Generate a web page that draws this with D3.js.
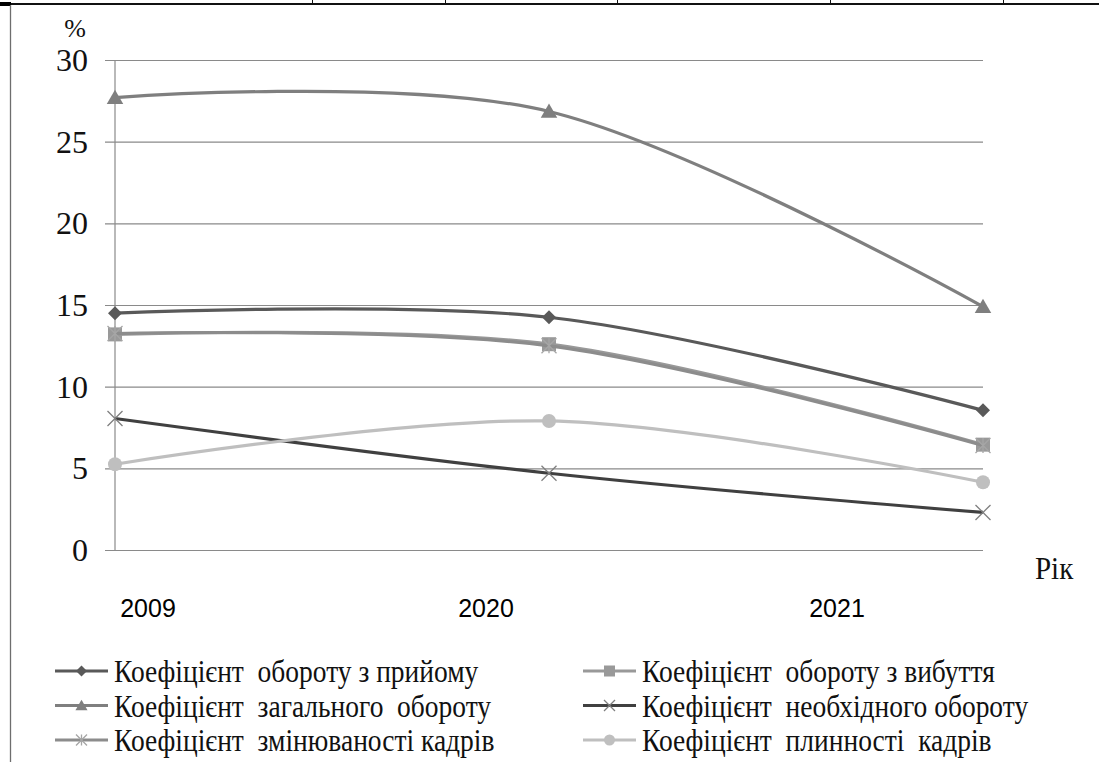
<!DOCTYPE html>
<html>
<head>
<meta charset="utf-8">
<script src="https://cdn.jsdelivr.net/npm/d3@7"></script>
<style>
  html, body { margin: 0; padding: 0; background: #fff; }
  svg { display: block; }
</style>
</head>
<body>
<svg id="chart" width="1099" height="762" font-family="Liberation Serif"></svg>
<script>
// Years on the category axis and the printed year captions under the plot
const years = ["2009", "2020", "2021"];
const yTicks = [0, 5, 10, 15, 20, 25, 30];

// Staff turnover ratios, %
const seriesNames = [
  "Коефіцієнт  обороту з прийому",
  "Коефіцієнт  обороту з вибуття",
  "Коефіцієнт  загального  обороту",
  "Коефіцієнт  необхідного обороту",
  "Коефіцієнт  змінюваності кадрів",
  "Коефіцієнт  плинності  кадрів"
];
const hiring      = [14.5, 14.25, 8.55];
const leaving     = [13.2, 12.6, 6.45];
const overall     = [27.7, 26.85, 14.9];
const necessary   = [8.05, 4.7, 2.3];
const changeover  = [13.25, 12.5, 6.4];
const fluidity    = [5.25, 7.9, 4.15];

const seriesValues = [hiring, leaving, overall, necessary, changeover, fluidity];
const seriesColors = ["#595959", "#999999", "#7f7f7f", "#404040", "#8c8c8c", "#bfbfbf"];
const markerColors = ["#595959", "#999999", "#7f7f7f", "#7f7f7f", "#a6a6a6", "#bfbfbf"];
const markerKinds  = ["diamond", "square", "triangle", "cross", "asterisk", "circle"];

const SERIF = "Liberation Serif";
const SANS = "Liberation Sans";

const svg = d3.select("#chart");

// outer frame pieces
svg.append("rect").attr("x", 0).attr("y", 3).attr("width", 1099).attr("height", 2).attr("fill", "#111");
svg.append("rect").attr("x", 0).attr("y", 2).attr("width", 11).attr("height", 4).attr("fill", "#000");
[312, 445, 617, 830, 1003].forEach(x => {
  svg.append("line").attr("x1", x + 0.5).attr("x2", x + 0.5).attr("y1", 0).attr("y2", 5)
    .attr("stroke", "#111").attr("stroke-width", 1);
});
svg.append("line").attr("x1", 10.5).attr("x2", 10.5).attr("y1", 5).attr("y2", 762)
  .attr("stroke", "#6e6e6e").attr("stroke-width", 1.3);

const x = d3.scalePoint().domain(years).range([115, 983]);
const y = d3.scaleLinear().domain([0, 30]).range([550, 60]);
const xCaption = d3.scaleOrdinal().domain(years).range([148, 486, 837]);

// value labels first, then gridlines and the vertical axis line
svg.append("g").selectAll("text").data(yTicks).join("text")
  .style("font-family", SERIF)
  .attr("x", 88).attr("y", d => y(d) + 11)
  .attr("text-anchor", "end")
  .attr("font-size", 32).attr("fill", "#111")
  .text(d => d);

svg.append("g").selectAll("line").data(yTicks).join("line")
  .attr("x1", 105).attr("x2", 983)
  .attr("y1", d => y(d) + 0.5).attr("y2", d => y(d) + 0.5)
  .attr("stroke", "#8a8a8a").attr("stroke-width", 1.2);
svg.append("line").attr("x1", 115).attr("x2", 115).attr("y1", y(30)).attr("y2", y(0))
  .attr("stroke", "#8a8a8a").attr("stroke-width", 1.2);

svg.append("text").style("font-family", SERIF).attr("x", 75).attr("y", 37).attr("text-anchor", "middle")
  .attr("font-size", 26).attr("fill", "#111").text("%");

svg.append("text").style("font-family", SERIF).attr("transform", "translate(1035,579) scale(1,1.12)")
  .attr("font-size", 29).attr("fill", "#111").text("Рік");

// marker drawing
function drawMarker(g, kind, cx, cy, s, color) {
  const h = s / 2;
  if (kind === "diamond") {
    g.append("path").attr("d", `M${cx},${cy - h}L${cx + h},${cy}L${cx},${cy + h}L${cx - h},${cy}Z`).attr("fill", color);
  } else if (kind === "square") {
    g.append("rect").attr("x", cx - h).attr("y", cy - h).attr("width", s).attr("height", s).attr("fill", color);
  } else if (kind === "triangle") {
    g.append("path").attr("d", `M${cx},${cy - h * 1.05}L${cx + h * 1.1},${cy + h * 0.85}L${cx - h * 1.1},${cy + h * 0.85}Z`).attr("fill", color);
  } else if (kind === "circle") {
    g.append("circle").attr("cx", cx).attr("cy", cy).attr("r", h).attr("fill", color);
  } else if (kind === "cross" || kind === "asterisk") {
    const p = [`M${cx - h},${cy - h}L${cx + h},${cy + h}`, `M${cx - h},${cy + h}L${cx + h},${cy - h}`];
    if (kind === "asterisk") p.push(`M${cx},${cy - h}L${cx},${cy + h}`);
    g.append("path").attr("d", p.join("")).attr("fill", "none").attr("stroke", color).attr("stroke-width", 1.3);
  }
}

const line = d3.line()
  .x((d, i) => x(years[i]))
  .y(d => y(d))
  .curve(d3.curveCatmullRom.alpha(0));

const plot = svg.append("g");
seriesValues.forEach((vals, k) => {
  plot.append("path").datum(vals).attr("d", line)
    .attr("fill", "none").attr("stroke", seriesColors[k])
    .attr("stroke-width", 3.2).attr("stroke-linejoin", "round");
  const mg = plot.append("g");
  vals.forEach((v, i) => {
    const s = markerKinds[k] === "triangle" ? 15 : (markerKinds[k] === "cross" || markerKinds[k] === "asterisk" ? 15 : 14);
    drawMarker(mg, markerKinds[k], x(years[i]), y(v), s, markerColors[k]);
  });
});

// legend: two columns, three rows
const legendRowY = [671, 705.5, 740];
const legendColX = [55, 583];
seriesNames.forEach((name, k) => {
  const col = k % 2, row = Math.floor(k / 2);
  const lx = legendColX[col], ly = legendRowY[row];
  const g = svg.append("g");
  g.append("line").attr("x1", lx).attr("x2", lx + 53).attr("y1", ly).attr("y2", ly)
    .attr("stroke", seriesColors[k]).attr("stroke-width", 3.2);
  drawMarker(g, markerKinds[k], lx + 26.5, ly, 11, markerColors[k]);
  g.append("text").style("font-family", SERIF)
    .attr("transform", `translate(${lx + 59},${ly + 11}) scale(1,1.17)`)
    .attr("font-size", 27.5).attr("fill", "#111")
    .style("white-space", "pre")
    .text(name);
});

// year captions under the plot
svg.append("g").selectAll("text").data(years).join("text")
  .style("font-family", SANS)
  .attr("x", d => xCaption(d)).attr("y", 617).attr("text-anchor", "middle")
  .attr("font-size", 25).attr("fill", "#000")
  .text(d => d);
</script>
</body>
</html>
